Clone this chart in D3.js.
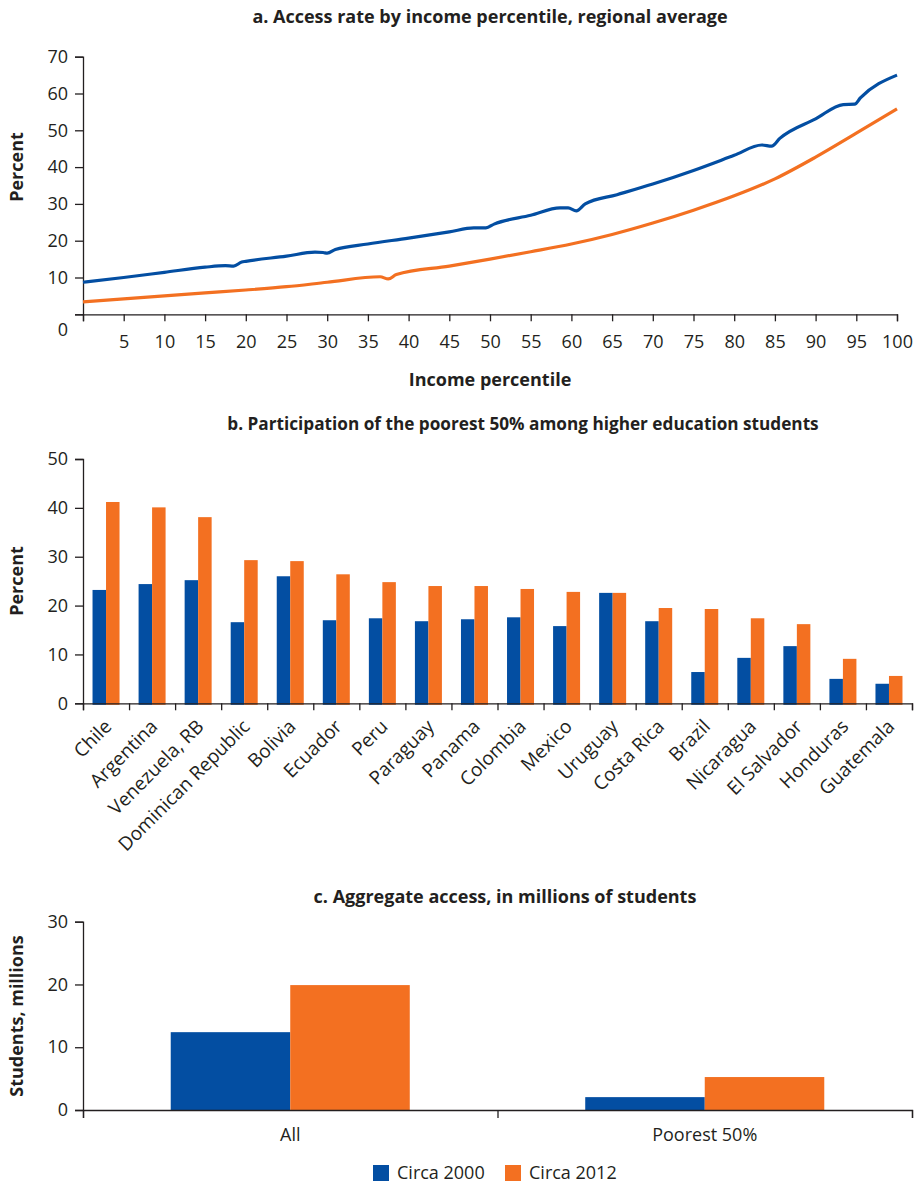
<!DOCTYPE html>
<html><head><meta charset="utf-8">
<script src="https://cdn.jsdelivr.net/npm/d3@7"></script>
<style>
body{margin:0;background:#fff}
svg text{font-family:"Open Sans","Noto Sans",sans-serif;fill:#231f20}
</style>
</head><body>
<svg id="chart" width="914" height="1185"></svg>
<script>
// ---------- DATA ----------
// Panel a: access rate by income percentile
const pctBlue  = [0,5,10,15,17.5,18.5,19.5,20,25,28.5,29.5,30,31,35,40,45,48,49.5,50.5,55,58.6,59.6,60.6,61.7,65.6,70,75,80,83.4,84.6,85.6,90,93.4,94.8,95.5,100];
const access2000 = [8.7,10.0,11.4,12.8,13.2,13.1,14.2,14.4,15.8,16.9,16.8,16.6,17.6,19.1,20.7,22.4,23.5,23.5,24.5,26.9,28.9,28.9,28.1,30.0,32.5,35.4,39.1,43.2,46.0,45.7,47.8,53.1,57.0,57.1,58.8,65.0];
const pctOrange = [0,5,10,15,20,25,30,36.5,37.5,38.5,45,50,55,60,65,70,75,80,85,90,95,100];
const access2012 = [3.4,4.2,5.0,5.8,6.6,7.5,8.7,10.2,9.6,10.8,13.1,15.0,17.0,19.1,21.7,24.8,28.3,32.2,36.8,42.7,49.2,55.8];
const xTicksA = [5,10,15,20,25,30,35,40,45,50,55,60,65,70,75,80,85,90,95,100];
const yTicksA = [10,20,30,40,50,60,70];

// Panel b: participation of poorest 50%
const countries = ["Chile","Argentina","Venezuela, RB","Dominican Republic","Bolivia","Ecuador","Peru","Paraguay","Panama","Colombia","Mexico","Uruguay","Costa Rica","Brazil","Nicaragua","El Salvador","Honduras","Guatemala"];
const share2000 = [23.2,24.4,25.2,16.6,26.0,17.0,17.4,16.8,17.2,17.6,15.8,22.6,16.8,6.4,9.3,11.7,5.0,4.0];
const share2012 = [41.2,40.1,38.1,29.3,29.1,26.4,24.8,24.0,24.0,23.4,22.8,22.6,19.5,19.3,17.4,16.2,9.1,5.6];
const yTicksB = [0,10,20,30,40,50];

// Panel c: aggregate access, millions
const groups = ["All","Poorest 50%"];
const students2000 = [12.4,2.05];
const students2012 = [19.9,5.25];
const yTicksC = [0,10,20,30];

const seriesNames = ["Circa 2000","Circa 2012"];
const colors = ["#034ea2","#f37021"];
const ink = "#231f20";
const FS = 18;

// ---------- DRAW ----------
const svg = d3.select("#chart");

function styleAxis(g){
  g.selectAll(".domain").attr("stroke",ink).attr("stroke-width",1.3);
  g.selectAll(".tick line").attr("stroke",ink).attr("stroke-width",1.3);
  g.selectAll(".tick text").attr("font-size",FS).attr("fill",ink)
    .style("font-family",'"Open Sans","Noto Sans",sans-serif');
}

// ===== Panel a =====
const xA = d3.scaleLinear().domain([0,100]).range([83,897]);
const yA = d3.scaleLinear().domain([0,70]).range([314.3,56.7]);

svg.append("text").attr("x",490).attr("y",17).attr("text-anchor","middle")
  .attr("dy","0.35em").attr("font-size",FS).attr("font-weight","bold")
  .text("a. Access rate by income percentile, regional average");

const gAy = svg.append("g").attr("transform","translate(83,0)")
  .call(d3.axisLeft(yA).tickValues([0].concat(yTicksA)).tickSize(8).tickPadding(7)
    .tickFormat(d=> d===0 ? "" : d));
styleAxis(gAy);
svg.append("text").attr("x",63).attr("y",330).attr("text-anchor","middle").attr("dy","0.35em")
  .attr("font-size",FS).text("0");

const gAx = svg.append("g").attr("transform","translate(0,314.3)")
  .call(d3.axisBottom(xA).tickValues([0].concat(xTicksA)).tickSize(7).tickPadding(0)
    .tickFormat(d=> d===0 ? "" : d));
styleAxis(gAx);
gAx.selectAll(".tick text").attr("y",27).attr("dy","0.35em");

svg.append("text").attr("transform","translate(17,167) rotate(-90)").attr("text-anchor","middle")
  .attr("dy","0.35em").attr("font-size",FS).attr("font-weight","bold").text("Percent");
svg.append("text").attr("x",490).attr("y",380).attr("text-anchor","middle").attr("dy","0.35em")
  .attr("font-size",FS).attr("font-weight","bold").text("Income percentile");

const lineA = d3.line().curve(d3.curveMonotoneX).x(d=>xA(d[0])).y(d=>yA(d[1]));
svg.append("path").datum(pctOrange.map((p,i)=>[p,access2012[i]]))
  .attr("d",lineA).attr("fill","none").attr("stroke",colors[1]).attr("stroke-width",3.2);
svg.append("path").datum(pctBlue.map((p,i)=>[p,access2000[i]]))
  .attr("d",lineA).attr("fill","none").attr("stroke",colors[0]).attr("stroke-width",3.2);

// ===== Panel b =====
const xB = d3.scaleBand().domain(countries).range([83,912]).paddingInner(0).paddingOuter(0);
const xB1 = d3.scaleBand().domain(seriesNames).range([0,xB.bandwidth()]).paddingInner(0).paddingOuter(0.706);
const yB = d3.scaleLinear().domain([0,50]).range([703.3,459]);

svg.append("text").attr("x",523).attr("y",424).attr("text-anchor","middle")
  .attr("dy","0.35em").attr("font-size",17.2).attr("font-weight","bold")
  .text("b. Participation of the poorest 50% among higher education students");

const gBy = svg.append("g").attr("transform","translate(83,0)")
  .call(d3.axisLeft(yB).tickValues(yTicksB).tickSize(8).tickPadding(7));
styleAxis(gBy);

svg.append("text").attr("transform","translate(17,581) rotate(-90)").attr("text-anchor","middle")
  .attr("dy","0.35em").attr("font-size",FS).attr("font-weight","bold").text("Percent");

const bBars = svg.append("g");
countries.forEach((c,i)=>{
  [share2000[i],share2012[i]].forEach((v,j)=>{
    bBars.append("rect")
      .attr("x",xB(c)+xB1(seriesNames[j]))
      .attr("width",xB1.bandwidth())
      .attr("y",yB(v))
      .attr("height",yB(0)-yB(v)+1.5)
      .attr("fill",colors[j]);
  });
});

const idxB = d3.scaleLinear().domain([0,countries.length]).range([83,912]);
const gBx = svg.append("g").attr("transform","translate(0,703.3)")
  .call(d3.axisBottom(idxB).tickValues(d3.range(0,countries.length+1)).tickSize(7).tickFormat(""));
styleAxis(gBx);

svg.append("g").selectAll("text").data(countries).join("text")
  .attr("transform",d=>`translate(${xB(d)+xB.bandwidth()/2+2},${723}) rotate(-45)`)
  .attr("text-anchor","end").attr("dy","0.35em").attr("font-size",19).text(d=>d);

// ===== Panel c =====
const xC = d3.scaleBand().domain(groups).range([83,912]).paddingInner(0).paddingOuter(0);
const xC1 = d3.scaleBand().domain(seriesNames).range([0,xC.bandwidth()]).paddingInner(0).paddingOuter(0.734);
const yC = d3.scaleLinear().domain([0,30]).range([1110,921.7]);

svg.append("text").attr("x",505).attr("y",897).attr("text-anchor","middle")
  .attr("dy","0.35em").attr("font-size",FS).attr("font-weight","bold")
  .text("c. Aggregate access, in millions of students");

const gCy = svg.append("g").attr("transform","translate(83,0)")
  .call(d3.axisLeft(yC).tickValues(yTicksC).tickSize(8).tickPadding(7));
styleAxis(gCy);

svg.append("text").attr("transform","translate(17,1016) rotate(-90)").attr("text-anchor","middle")
  .attr("dy","0.35em").attr("font-size",FS).attr("font-weight","bold").text("Students, millions");

groups.forEach((g,i)=>{
  [students2000[i],students2012[i]].forEach((v,j)=>{
    svg.append("rect")
      .attr("x",xC(g)+xC1(seriesNames[j]))
      .attr("width",xC1.bandwidth())
      .attr("y",yC(v))
      .attr("height",yC(0)-yC(v))
      .attr("fill",colors[j]);
  });
});

const idxC = d3.scaleLinear().domain([0,groups.length]).range([83,912]);
const gCx = svg.append("g").attr("transform","translate(0,1110)")
  .call(d3.axisBottom(idxC).tickValues(d3.range(0,groups.length+1)).tickSize(8).tickFormat(""));
styleAxis(gCx);

svg.append("g").selectAll("text").data(groups).join("text")
  .attr("x",d=>xC(d)+xC.bandwidth()/2).attr("y",1135).attr("text-anchor","middle")
  .attr("dy","0.35em").attr("font-size",FS).text(d=>d);

// Legend
const legX = [373,505];
seriesNames.forEach((s,j)=>{
  svg.append("rect").attr("x",legX[j]).attr("y",1165).attr("width",16).attr("height",16).attr("fill",colors[j]);
  svg.append("text").attr("x",legX[j]+24).attr("y",1173).attr("dy","0.35em").attr("font-size",FS).text(s);
});
</script>
</body></html>
